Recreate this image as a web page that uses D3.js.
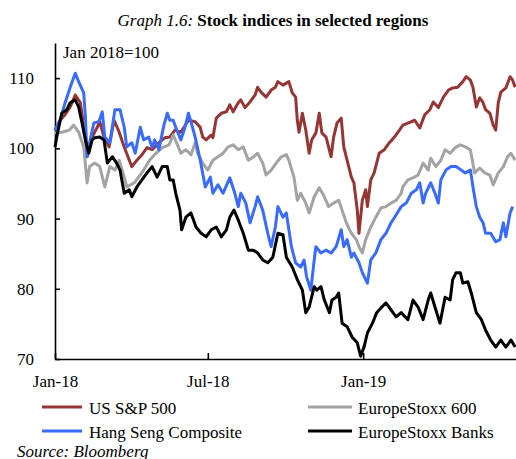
<!DOCTYPE html>
<html>
<head>
<meta charset="utf-8">
<script src="https://cdn.jsdelivr.net/npm/d3@7"></script>
<style>
  body { margin: 0; background: #fff; }
  svg text { font-family: "Liberation Serif", "Times New Roman", serif; fill: #000; }
</style>
</head>
<body>
<div id="chart"></div>
<script>
// days since 1 Jan 2018, index level (Jan 2018 = 100)
const startDate = new Date(2018, 0, 1);
const endDate = new Date(2019, 6, 1);

const seriesNames = ['US S&P 500', 'EuropeStoxx 600', 'Hang Seng Composite', 'EuropeStoxx Banks'];
const seriesColors = ['#963634', '#a3a3a3', '#3a6bff', '#000000'];

const spx = [
	[0,102.6],[6,104.0],[12,104.8],[18,105.9],[24,107.6],[30,106.5],[36,101.6],[38,98.8],[44,101.6],[50,103.0],
	[53,103.8],[58,101.6],[64,100.2],[70,104.0],[76,102.3],[82,100.2],[88,98.3],[91,97.4],[97,98.3],[103,99.1],
	[109,100.1],[115,99.8],[123,100.8],[130,101.5],[136,101.6],[142,102.6],[149,102.3],[158,104.0],[166,103.8],
	[172,103.0],[175,101.6],[179,101.2],[185,101.9],[187,101.5],[191,104.3],[197,105.0],[203,105.2],[207,106.2],
	[211,105.2],[217,106.5],[220,106.9],[225,105.8],[231,106.6],[237,107.6],[240,108.7],[244,108.0],[250,107.3],
	[256,108.3],[261,108.7],[264,109.5],[270,109.0],[277,109.5],[281,107.9],[285,107.3],[287,104.0],[289,102.3],
	[293,105.0],[297,102.6],[301,99.3],[304,101.2],[309,102.2],[313,105.0],[316,102.2],[321,101.6],[324,100.2],
	[327,98.8],[330,101.6],[334,103.6],[339,104.3],[342,100.2],[346,98.3],[351,95.9],[354,95.1],[358,91.2],
	[360,87.9],[364,92.6],[368,94.1],[370,91.7],[374,95.5],[378,96.5],[384,99.3],[390,99.8],[396,100.8],
	[402,101.6],[408,102.6],[412,103.3],[418,103.6],[426,104.0],[432,102.9],[438,104.8],[444,105.5],[448,106.6],
	[454,105.8],[460,107.3],[466,108.3],[471,108.6],[477,108.7],[483,109.5],[487,110.2],[492,109.7],[495,108.7],
	[499,105.9],[503,107.2],[507,106.5],[510,105.5],[515,105.0],[519,103.3],[522,102.6],[525,106.5],[528,108.0],
	[534,108.6],[539,110.2],[542,109.7],[545,108.7]
];

const stoxx600 = [
	[0,102.2],[8,102.3],[17,102.6],[22,103.3],[28,102.3],[34,100.2],[38,95.1],[41,97.4],[47,97.9],[53,97.4],
	[59,94.5],[65,97.4],[71,96.9],[76,98.3],[82,95.9],[85,94.5],[94,95.1],[99,95.9],[105,96.9],[112,98.3],
	[118,99.1],[127,100.1],[135,100.5],[140,101.9],[146,100.2],[149,99.3],[155,99.8],[161,99.1],[166,100.8],
	[169,99.3],[175,97.9],[181,96.9],[187,98.3],[193,98.8],[199,99.3],[205,100.2],[211,100.5],[217,99.8],
	[223,100.2],[229,98.3],[235,98.8],[240,99.3],[246,97.9],[250,96.2],[256,96.9],[262,97.9],[268,98.8],
	[274,99.1],[277,98.3],[283,95.9],[287,92.6],[291,93.6],[297,92.2],[301,90.8],[307,93.1],[313,94.4],
	[319,93.1],[324,91.7],[330,92.2],[336,92.6],[340,91.2],[345,89.4],[351,87.9],[357,87.0],[360,86.0],
	[364,85.1],[368,87.0],[374,88.8],[380,90.2],[386,91.5],[392,91.7],[398,92.2],[404,92.6],[410,93.6],
	[412,94.5],[418,95.5],[424,95.8],[430,96.2],[436,97.9],[442,96.9],[445,98.6],[451,97.4],[457,98.3],
	[462,99.8],[468,99.3],[474,100.1],[480,100.5],[486,100.2],[492,99.8],[497,96.5],[503,97.2],[509,96.5],
	[515,96.2],[519,94.8],[525,96.5],[531,97.4],[536,98.8],[540,99.3],[545,98.3]
];

const hangSeng = [
	[0,102.6],[6,104.0],[12,106.5],[18,108.7],[24,110.7],[28,109.5],[34,107.9],[36,104.5],[38,98.8],[41,100.8],
	[46,103.6],[52,103.8],[56,105.2],[59,101.6],[65,100.8],[71,105.5],[77,105.5],[82,103.0],[85,100.2],[91,100.8],
	[95,99.3],[101,103.0],[105,101.2],[111,101.6],[115,100.1],[118,101.2],[123,99.8],[129,103.3],[133,105.0],
	[136,104.0],[140,104.0],[143,103.0],[149,101.2],[154,103.0],[158,105.0],[161,103.8],[166,101.6],[172,98.3],
	[178,94.5],[184,95.9],[187,93.6],[193,94.8],[199,93.6],[207,95.8],[213,93.6],[217,91.7],[220,93.6],
	[226,92.2],[231,89.4],[237,91.7],[240,93.1],[246,91.2],[252,87.9],[256,86.0],[261,88.8],[264,91.7],
	[270,90.2],[274,90.8],[280,86.0],[285,83.7],[291,83.1],[295,84.1],[298,81.7],[303,79.8],[307,84.1],
	[309,86.0],[315,85.1],[321,85.5],[327,85.1],[333,86.0],[339,88.4],[342,86.0],[346,87.0],[351,84.5],
	[354,85.1],[360,83.7],[364,82.3],[370,80.8],[374,84.1],[380,85.1],[386,87.0],[392,87.9],[398,89.4],
	[404,90.5],[410,91.7],[416,92.2],[422,93.6],[428,94.1],[432,95.1],[436,92.2],[439,93.6],[445,95.1],
	[450,93.6],[454,92.2],[457,95.5],[463,96.9],[469,97.4],[475,97.4],[481,96.9],[486,96.5],[492,96.9],
	[495,94.5],[499,91.7],[503,90.2],[507,89.4],[510,87.9],[516,87.9],[522,86.7],[527,87.0],[531,89.4],
	[534,87.4],[539,90.8],[542,91.7]
];

const stoxxBanks = [
	[0,100.2],[2,101.6],[8,105.0],[14,105.5],[18,106.5],[24,106.9],[28,105.9],[32,103.6],[36,101.2],[40,99.3],
	[44,101.2],[47,101.5],[53,101.6],[58,101.2],[62,97.9],[68,98.8],[73,97.9],[77,96.9],[82,93.6],[88,94.1],
	[91,93.1],[97,94.5],[103,95.5],[109,96.5],[115,97.4],[121,95.9],[127,97.4],[133,97.4],[136,95.5],
	[140,95.5],[143,93.6],[148,91.2],[150,88.4],[155,90.2],[161,90.8],[167,88.8],[173,87.9],[179,87.4],
	[185,88.4],[191,88.8],[197,87.4],[203,88.4],[207,90.2],[212,91.2],[217,89.8],[223,87.9],[229,85.5],
	[235,85.5],[240,85.1],[246,84.1],[252,83.7],[258,84.5],[264,87.9],[270,87.7],[274,84.5],[281,83.1],
	[287,81.3],[293,79.8],[297,76.6],[301,77.4],[307,80.3],[310,79.8],[315,80.3],[319,78.4],[325,76.6],
	[328,78.4],[333,78.8],[336,79.4],[340,75.1],[346,74.6],[352,73.1],[358,72.3],[362,70.4],[366,71.7],
	[370,73.7],[376,75.1],[381,76.6],[387,77.4],[392,78.0],[398,77.0],[404,76.0],[410,76.6],[418,75.6],
	[424,78.4],[430,77.4],[436,75.6],[442,78.4],[445,79.4],[450,77.4],[456,75.1],[462,78.8],[468,78.4],
	[471,81.3],[475,82.3],[480,82.3],[483,80.8],[489,81.0],[493,79.4],[499,76.6],[505,75.6],[510,74.1],
	[516,72.7],[522,71.7],[528,72.7],[534,71.7],[540,72.7],[545,71.7]
];

const seriesData = [spx, stoxx600, hangSeng, stoxxBanks];

const yTicks = [70, 80, 90, 100, 110];
const xTicks = [new Date(2018, 0, 1), new Date(2018, 6, 1), new Date(2019, 0, 1)];

const width = 516;
const height = 459;
const plot = { left: 55, right: 516, top: 43, bottom: 359 };

const svg = d3.select('#chart')
	.append('svg')
		.attr('width', width)
		.attr('height', height);

const x = d3.scaleTime()
	.domain([startDate, endDate])
	.range([plot.left, plot.right]);

const y = d3.scaleLinear()
	.domain([70, 115])
	.range([plot.bottom, plot.top]);

// title
const title = svg.append('text')
	.attr('x', 273)
	.attr('y', 26)
	.attr('text-anchor', 'middle')
	.style('font-size', '17px');
title.append('tspan').style('font-style', 'italic').text('Graph 1.6: ');
title.append('tspan').style('font-weight', 'bold').text('Stock indices in selected regions');

svg.append('text')
	.attr('x', 63)
	.attr('y', 58)
	.style('font-size', '17px')
	.text('Jan 2018=100');

// axes
const yAxis = d3.axisLeft(y)
	.tickValues(yTicks)
	.tickSizeInner(-5)
	.tickSizeOuter(0)
	.tickPadding(21);

svg.append('g')
	.attr('class', 'yAxis')
	.attr('transform', `translate(${plot.left}, 0)`)
	.call(yAxis);

const xAxis = d3.axisBottom(x)
	.tickValues(xTicks)
	.tickFormat(d3.timeFormat('%b-%y'))
	.tickSizeInner(-6)
	.tickSizeOuter(0)
	.tickPadding(16);

svg.append('g')
	.attr('class', 'xAxis')
	.attr('transform', `translate(0, ${plot.bottom})`)
	.call(xAxis);

svg.selectAll('.domain, .tick line')
	.attr('stroke', '#000')
	.attr('stroke-width', 1.6);
svg.selectAll('.tick text')
	.style('font-family', '"Liberation Serif", "Times New Roman", serif')
	.style('font-size', '17px')
	.attr('fill', '#000');

// lines
const line = d3.line()
	.x(d => x(d3.timeDay.offset(startDate, d[0])))
	.y(d => y(d[1]));

svg.append('g')
	.selectAll('path')
	.data(seriesData)
	.enter()
	.append('path')
		.attr('d', d => line(d))
		.attr('fill', 'none')
		.attr('stroke', (d, i) => seriesColors[i])
		.attr('stroke-width', 3)
		.attr('stroke-linejoin', 'round');

// legend
const legendPos = [[42, 407], [308, 407], [42, 431], [308, 431]];
const legend = svg.append('g')
	.selectAll('g')
	.data(seriesNames)
	.enter()
	.append('g')
		.attr('transform', (d, i) => `translate(${legendPos[i][0]}, ${legendPos[i][1]})`);

legend.append('line')
	.attr('x1', 0)
	.attr('x2', (d, i) => i % 2 ? 44 : 40)
	.attr('stroke', (d, i) => seriesColors[i])
	.attr('stroke-width', 3);

legend.append('text')
	.attr('x', (d, i) => i % 2 ? 50 : 47)
	.attr('y', 7)
	.style('font-size', '17px')
	.text(d => d);

svg.append('text')
	.attr('x', 17)
	.attr('y', 457)
	.style('font-size', '17px')
	.style('font-style', 'italic')
	.text('Source: Bloomberg');
</script>
</body>
</html>
